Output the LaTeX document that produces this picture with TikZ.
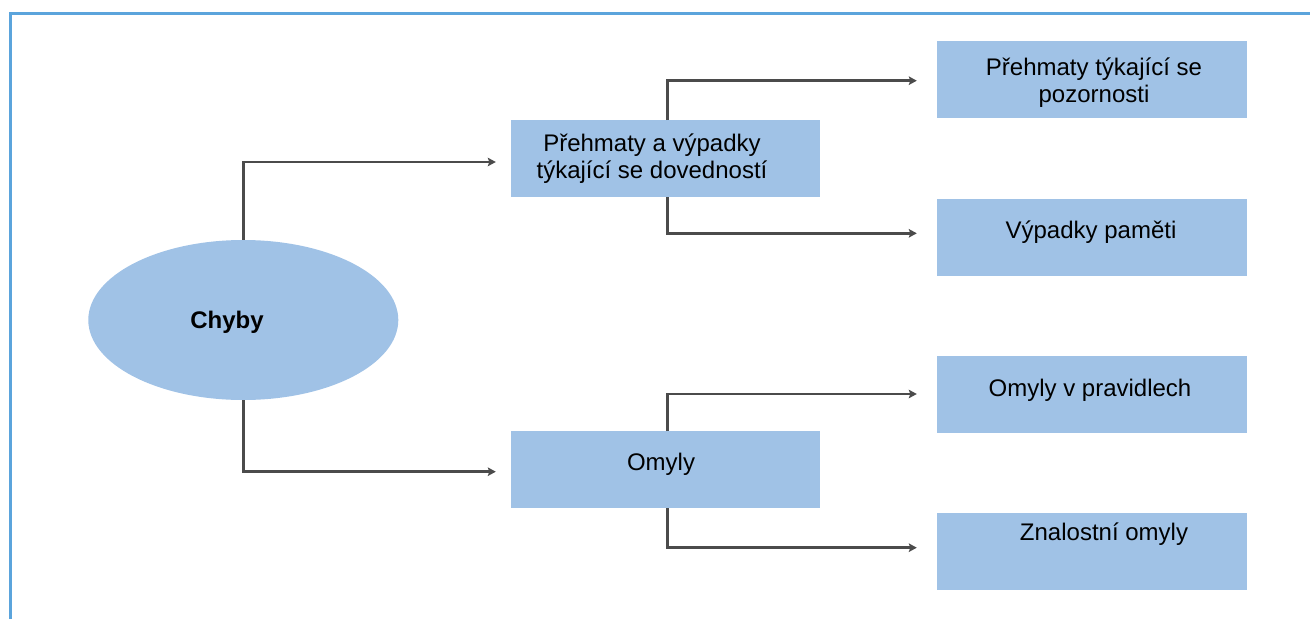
\documentclass[tikz,border=0pt]{standalone}
\usepackage{fontspec}
\setmainfont{Liberation Sans}
\usetikzlibrary{calc,arrows.meta,shapes.geometric}
\definecolor{boxblue}{RGB}{160,194,230}
\definecolor{frameblue}{RGB}{91,164,220}
\definecolor{linkgray}{RGB}{75,75,75}
\begin{document}
\begin{tikzpicture}[x=1pt,y=-1pt,
  box/.style={rectangle, fill=boxblue, minimum width=309pt, minimum height=77pt, inner sep=0pt},
  oval/.style={ellipse, fill=boxblue, minimum width=310pt, minimum height=160pt, inner sep=0pt},
  lbl/.style={font=\fontsize{24}{26.5}\selectfont, align=center, inner sep=0pt, anchor=base},
  link/.style={draw=linkgray, line width=2.5pt, line join=miter,
    -{Stealth[length=8pt,width=8.5pt,inset=1.5pt]}}]
  \path[use as bounding box] (0,0) rectangle (1310,619);

  % outer frame (top and left edges)
  \draw[frameblue, line width=3pt] (10,619) -- (10,13.3) -- (1310,13.3);

  % root
  \node[oval] (err) at (243.3,320) {};
  \node[lbl, font=\fontsize{24}{26}\selectfont\bfseries] (errt) at (227,328.5) {Chyby};

  % second level
  \node[box] (slip) at (665.5,158.7) {};
  \node[box] (mist) at (665.5,469.7) {};

  % third level
  \node[box, minimum width=310pt] (att) at (1092,79.5) {};
  \node[box, minimum width=310pt] (mem) at (1092,237) {};
  \node[box, minimum width=310pt] (rule) at (1092,394.5) {};
  \node[box, minimum width=310pt] (know) at (1092,551) {};

  % connectors
  \draw[link] (err.north) |- ([shift={(-15,3.3)}]slip.west);
  \draw[link] (err.south) |- ([shift={(-15,2)}]mist.west);
  \draw[link] ([shift={(2,0)}]slip.north) |- ([shift={(-20,1.2)}]att.west);
  \draw[link] ([shift={(2,0)}]slip.south) |- ([shift={(-20,-3.7)}]mem.west);
  \draw[link] ([shift={(2,0)}]mist.north) |- ([shift={(-20,-0.5)}]rule.west);
  \draw[link] ([shift={(2,0)}]mist.south) |- ([shift={(-20,-3.3)}]know.west);

  % box texts (base anchor sits on the last line)
  \node[lbl] (slipt) at (652,178.3) {Přehmaty a výpadky\\týkající se dovedností};
  \node[lbl] (mistt) at (661,470) {Omyly};
  \node[lbl] (attt) at (1094,102) {Přehmaty týkající se\\pozornosti};
  \node[lbl] (memt) at (1091,238) {Výpadky paměti};
  \node[lbl] (rulet) at (1090,396) {Omyly v pravidlech};
  \node[lbl] (knowt) at (1104,540) {Znalostní omyly};
\end{tikzpicture}
\end{document}
